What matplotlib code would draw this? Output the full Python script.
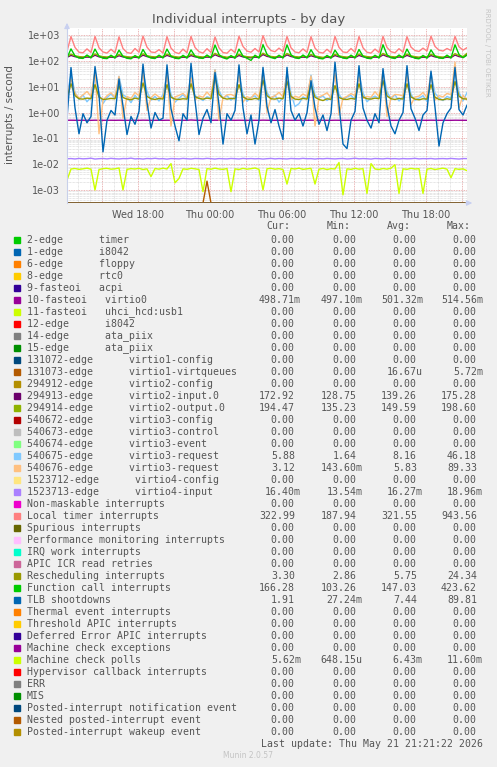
import numpy as np
import pandas as pd
import matplotlib
matplotlib.use('Agg')
import matplotlib.pyplot as plt
import matplotlib.dates as mdates
from matplotlib.patches import Rectangle
from matplotlib.ticker import FixedLocator, LogLocator, NullFormatter, FuncFormatter

# 20 minute samples, Wed 12:05 -> Thu 21:25
times = pd.date_range('2026-05-20 12:05', periods=101, freq='20min')

# --- series that are not flat zero ---
virtio0 = [0.501,
           0.503, 0.500, 0.499, 0.502, 0.500, 0.498,
           0.504, 0.501, 0.499, 0.500, 0.502, 0.499,
           0.503, 0.500, 0.498, 0.501, 0.500, 0.499,
           0.505, 0.502, 0.499, 0.500, 0.501, 0.498,
           0.503, 0.500, 0.499, 0.502, 0.500, 0.499,
           0.514, 0.503, 0.500, 0.501, 0.499, 0.498,
           0.504, 0.501, 0.499, 0.500, 0.502, 0.499,
           0.503, 0.500, 0.498, 0.501, 0.500, 0.499,
           0.506, 0.502, 0.499, 0.500, 0.501, 0.498,
           0.503, 0.500, 0.499, 0.502, 0.500, 0.499,
           0.504, 0.501, 0.500, 0.501, 0.499, 0.498,
           0.503, 0.501, 0.499, 0.500, 0.502, 0.499,
           0.504, 0.500, 0.498, 0.501, 0.500, 0.499,
           0.505, 0.502, 0.499, 0.500, 0.501, 0.498,
           0.503, 0.500, 0.499, 0.502, 0.500, 0.499,
           0.504, 0.501, 0.500, 0.501, 0.499, 0.498,
           0.503, 0.501, 0.500, 0.4987]

virtio1_vq = [0.0] * 35 + [0.0022] + [0.0] * 65

virtio2_in = [137,
              162, 145, 136, 133, 140, 135,
              165, 143, 135, 132, 139, 134,
              158, 142, 134, 131, 138, 133,
              166, 146, 137, 133, 141, 136,
              163, 144, 135, 130, 139, 134,
              160, 143, 136, 132, 140, 135,
              172, 148, 137, 129, 138, 133,
              161, 142, 135, 131, 139, 134,
              175, 149, 138, 133, 141, 136,
              170, 147, 136, 132, 140, 135,
              158, 141, 134, 129, 138, 133,
              160, 143, 135, 131, 139, 134,
              162, 144, 136, 132, 140, 135,
              171, 147, 137, 133, 141, 136,
              163, 143, 135, 130, 139, 134,
              160, 142, 134, 131, 138, 133,
              168, 146, 137, 172.9]

virtio2_out = [147,
               182, 158, 146, 142, 150, 145,
               185, 156, 145, 141, 149, 144,
               176, 154, 144, 140, 148, 143,
               188, 159, 147, 142, 151, 146,
               183, 157, 145, 139, 149, 144,
               180, 155, 146, 141, 150, 145,
               195, 161, 147, 138, 148, 143,
               181, 155, 145, 140, 149, 144,
               198, 162, 148, 142, 151, 146,
               193, 160, 146, 141, 150, 145,
               177, 154, 144, 136, 148, 143,
               180, 156, 145, 140, 149, 144,
               183, 157, 146, 141, 150, 145,
               194, 160, 147, 142, 151, 146,
               184, 156, 145, 139, 149, 144,
               180, 155, 144, 140, 148, 143,
               190, 159, 147, 194.5]

v3_request_a = [4.5,
                30, 6.0, 3.2, 4.8, 2.6, 4.0,
                35, 5.5, 2.2, 3.8, 5.2, 3.5,
                25, 4.8, 3.9, 2.4, 4.6, 3.1,
                38, 6.5, 3.0, 4.2, 2.8, 5.0,
                32, 5.0, 2.5, 3.6, 4.9, 3.3,
                28, 4.4, 3.8, 2.9, 4.1, 3.6,
                46, 7.0, 3.5, 4.5, 3.0, 4.2,
                30, 5.2, 2.7, 3.9, 4.4, 2.9,
                40, 6.0, 3.3, 4.7, 2.5, 3.8,
                36, 5.5, 1.7, 2.2, 4.0, 3.4,
                28, 4.6, 3.6, 4.4, 2.9, 4.1,
                30, 5.0, 3.1, 4.0, 4.6, 3.2,
                33, 5.8, 2.6, 3.7, 4.3, 3.5,
                38, 6.2, 3.4, 4.8, 2.8, 4.0,
                30, 5.0, 3.0, 3.6, 4.5, 2.7,
                34, 5.6, 3.7, 2.9, 4.2, 3.6,
                36, 6.0, 2.8, 5.88]

v3_request_b = [4.0,
                20, 5.5, 3.6, 4.8, 6.5, 4.2,
                40, 0.15, 3.0, 4.5, 5.8, 3.9,
                25, 0.6, 4.2, 3.5, 6.0, 4.4,
                35, 1.2, 3.8, 5.2, 4.0, 3.6,
                30, 0.3, 4.0, 4.6, 5.5, 3.8,
                22, 3.0, 4.4, 3.9, 6.2, 4.1,
                45, 0.5, 3.7, 4.8, 5.0, 4.3,
                28, 2.5, 4.1, 3.6, 5.6, 3.9,
                38, 1.0, 3.9, 4.4, 6.0, 4.0,
                30, 3.2, 4.3, 3.8, 5.2, 4.2,
                26, 0.3, 4.0, 4.7, 5.8, 3.7,
                32, 0.8, 3.6, 4.2, 5.4, 4.5,
                24, 3.5, 4.2, 3.9, 6.4, 4.1,
                40, 0.7, 3.8, 5.0, 4.8, 4.4,
                28, 2.0, 4.0, 4.3, 6.0, 3.8,
                30, 3.0, 4.5, 4.0, 5.5, 4.9,
                89, 1.5, 4.6, 3.12]

v4_input = [0.0162, 0.0165, 0.0159, 0.0167, 0.0161, 0.0164, 0.0170, 0.0158, 0.0163, 0.0166,
            0.0160, 0.0168, 0.0162, 0.0159, 0.0165, 0.0163, 0.0171, 0.0160, 0.0164, 0.0158,
            0.0166, 0.0162, 0.0169, 0.0161, 0.0164, 0.0157, 0.0165, 0.0163, 0.0160, 0.0167,
            0.0162, 0.0159, 0.0166, 0.0164, 0.0161, 0.0168, 0.0163, 0.0158, 0.0165, 0.0162,
            0.0160, 0.0166, 0.0163, 0.0159, 0.0167, 0.0162, 0.0165, 0.0161, 0.0164, 0.0158,
            0.0163, 0.0167, 0.0160, 0.0165, 0.0162, 0.0159, 0.0166, 0.0163, 0.0161, 0.0168,
            0.0162, 0.0164, 0.0158, 0.0165, 0.0161, 0.0167, 0.0163, 0.0160, 0.0164, 0.0166,
            0.0159, 0.0163, 0.0170, 0.0161, 0.0165, 0.0162, 0.0158, 0.0166, 0.0163, 0.0160,
            0.0167, 0.0162, 0.0164, 0.0159, 0.0165, 0.0161, 0.0163, 0.0168, 0.0160, 0.0164,
            0.0162, 0.0166, 0.0159, 0.0163, 0.0165, 0.0161, 0.0167, 0.0162, 0.0158, 0.0165,
            0.0164]

local_timer = [235,
               870, 330, 215, 205, 290, 210,
               880, 320, 220, 200, 280, 205,
               850, 300, 210, 195, 300, 215,
               900, 340, 220, 210, 270, 200,
               860, 310, 215, 190, 285, 205,
               880, 330, 225, 200, 295, 210,
               840, 320, 210, 198, 280, 208,
               890, 360, 240, 215, 300, 220,
               943, 380, 250, 225, 310, 230,
               870, 320, 220, 205, 290, 212,
               860, 310, 215, 200, 280, 205,
               880, 330, 220, 210, 300, 215,
               870, 320, 215, 200, 285, 210,
               880, 330, 225, 205, 295, 215,
               860, 340, 250, 230, 310, 240,
               900, 360, 260, 240, 300, 250,
               880, 350, 260, 323]

resched = [3.6,
           13, 4.5, 3.4, 3.3, 3.6, 3.4,
           12, 4.0, 3.2, 3.3, 3.5, 3.4,
           11, 3.8, 3.3, 3.1, 3.6, 3.3,
           14, 4.2, 3.4, 3.2, 3.5, 3.3,
           12, 3.9, 3.3, 3.2, 3.4, 3.3,
           13, 4.1, 3.5, 3.3, 3.6, 3.4,
           24, 5.0, 3.6, 3.3, 3.5, 3.4,
           12, 4.0, 3.3, 3.2, 3.5, 3.3,
           18, 4.5, 3.4, 3.3, 3.6, 3.4,
           16, 4.2, 3.3, 3.2, 3.5, 3.3,
           12, 3.9, 3.2, 2.9, 3.4, 3.2,
           11, 3.8, 3.3, 3.2, 3.5, 3.3,
           13, 4.0, 3.4, 3.3, 3.6, 3.4,
           17, 4.4, 3.4, 3.2, 3.5, 3.3,
           13, 4.0, 3.3, 3.1, 3.4, 3.3,
           12, 3.9, 3.2, 3.1, 3.4, 3.2,
           16, 4.3, 3.4, 3.30]

func_call = [130,
             290, 155, 128, 124, 168, 130,
             285, 150, 126, 122, 165, 128,
             260, 148, 125, 120, 160, 127,
             275, 152, 128, 123, 166, 129,
             285, 150, 126, 121, 163, 128,
             265, 152, 129, 124, 168, 130,
             410, 175, 132, 118, 160, 126,
             285, 150, 126, 104, 165, 128,
             423, 178, 134, 122, 165, 128,
             415, 172, 130, 123, 168, 130,
             270, 148, 125, 119, 162, 127,
             260, 152, 128, 122, 166, 129,
             275, 150, 126, 121, 164, 128,
             420, 172, 131, 123, 168, 130,
             285, 148, 126, 120, 162, 127,
             265, 152, 129, 124, 166, 129,
             418, 176, 132, 166]

tlb = [0.6,
       55, 1.5, 0.15, 0.9, 0.4, 0.7,
       60, 5.0, 0.03, 0.5, 1.2, 0.8,
       20, 1.8, 0.14, 0.7, 0.35, 1.1,
       75, 2.5, 0.25, 1.0, 0.5, 0.6,
       70, 1.4, 0.3, 0.08, 0.9, 0.5,
       80, 3.0, 0.14, 0.6, 1.3, 0.4,
       36, 2.0, 0.06, 0.9, 0.5, 1.2,
       70, 1.5, 0.15, 0.8, 0.06, 0.5,
       56, 1.7, 0.4, 1.3, 0.3, 0.09,
       56, 1.2, 0.5, 0.9, 0.3, 1.0,
       17, 1.5, 0.35, 0.8, 0.2, 0.9,
       89, 2.0, 0.06, 0.04, 0.5, 1.1,
       65, 1.5, 0.5, 0.25, 0.9, 0.4,
       50, 1.8, 0.3, 0.15, 0.5, 1.0,
       65, 1.4, 0.6, 0.2, 0.8, 1.2,
       40, 1.6, 0.05, 0.4, 0.9, 1.5,
       56, 1.3, 0.8, 1.91]

mc_polls = [0.0024, 0.0065, 0.0068, 0.0063, 0.0066, 0.0070, 0.0064, 0.0010, 0.0062, 0.0067,
            0.0069, 0.0064, 0.0066, 0.0071, 0.0010, 0.0063, 0.0067, 0.0065, 0.0069, 0.0062,
            0.0066, 0.0033, 0.0068, 0.0064, 0.0070, 0.0065, 0.0105, 0.0019, 0.0028, 0.0066,
            0.0063, 0.0069, 0.0066, 0.0062, 0.00086, 0.0067, 0.0064, 0.0070, 0.0065, 0.0063,
            0.0068, 0.00086, 0.0066, 0.0062, 0.0069, 0.0064, 0.0067, 0.0071, 0.0063, 0.0010,
            0.0066, 0.0069, 0.0064, 0.0067, 0.0062, 0.0017, 0.0068, 0.0065, 0.0070, 0.0063,
            0.0066, 0.0069, 0.0017, 0.0064, 0.0068, 0.0062, 0.0067, 0.0065, 0.0116, 0.00065,
            0.0066, 0.0063, 0.0069, 0.0064, 0.0067, 0.00074, 0.0105, 0.0065, 0.0062, 0.0068,
            0.0064, 0.0070, 0.0095, 0.00074, 0.0066, 0.0063, 0.0069, 0.0065, 0.0067, 0.00074,
            0.0064, 0.0068, 0.0062, 0.0066, 0.0070, 0.0064, 0.0030, 0.0067, 0.0063, 0.0066,
            0.0056]

# --- legend ---
labels = ['2-edge      timer', '1-edge      i8042', '6-edge      floppy',
          '8-edge      rtc0', '9-fasteoi   acpi', '10-fasteoi   virtio0',
          '11-fasteoi   uhci_hcd:usb1', '12-edge      i8042', '14-edge      ata_piix',
          '15-edge      ata_piix', '131072-edge      virtio1-config',
          '131073-edge      virtio1-virtqueues', '294912-edge      virtio2-config',
          '294913-edge      virtio2-input.0', '294914-edge      virtio2-output.0',
          '540672-edge      virtio3-config', '540673-edge      virtio3-control',
          '540674-edge      virtio3-event', '540675-edge      virtio3-request',
          '540676-edge      virtio3-request', '1523712-edge      virtio4-config',
          '1523713-edge      virtio4-input', 'Non-maskable interrupts',
          'Local timer interrupts', 'Spurious interrupts',
          'Performance monitoring interrupts', 'IRQ work interrupts',
          'APIC ICR read retries', 'Rescheduling interrupts',
          'Function call interrupts', 'TLB shootdowns', 'Thermal event interrupts',
          'Threshold APIC interrupts', 'Deferred Error APIC interrupts',
          'Machine check exceptions', 'Machine check polls',
          'Hypervisor callback interrupts', 'ERR', 'MIS',
          'Posted-interrupt notification event', 'Nested posted-interrupt event',
          'Posted-interrupt wakeup event']

palette = ['#00CC00', '#0066B3', '#FF8000', '#FFCC00', '#330099', '#990099', '#CCFF00',
           '#FF0000', '#808080', '#008F00', '#00487D', '#B35A00', '#B38F00', '#6B006B',
           '#8FB300', '#B30000', '#BEBEBE', '#80FF80', '#80C9FF', '#FFC080', '#FFE680',
           '#AA80FF', '#EE00CC', '#FF8080', '#666600', '#FFBFFF', '#00FFCC', '#CC6699',
           '#999900']
colors = [palette[i % len(palette)] for i in range(len(labels))]

z = '0.00'
cur = [z, z, z, z, z, '498.71m', z, z, z, z, z, z, z, '172.92', '194.47', z, z, z,
       '5.88', '3.12', z, '16.40m', z, '322.99', z, z, z, z, '3.30', '166.28', '1.91',
       z, z, z, z, '5.62m', z, z, z, z, z, z]
mins = [z, z, z, z, z, '497.10m', z, z, z, z, z, z, z, '128.75', '135.23', z, z, z,
        '1.64', '143.60m', z, '13.54m', z, '187.94', z, z, z, z, '2.86', '103.26',
        '27.24m', z, z, z, z, '648.15u', z, z, z, z, z, z]
avgs = [z, z, z, z, z, '501.32m', z, z, z, z, z, '16.67u', z, '139.26', '149.59', z, z,
        z, '8.16', '5.83', z, '16.27m', z, '321.55', z, z, z, z, '5.75', '147.03', '7.44',
        z, z, z, z, '6.43m', z, z, z, z, z, z]
maxs = [z, z, z, z, z, '514.56m', z, z, z, z, z, '5.72m', z, '175.28', '198.60', z, z,
        z, '46.18', '89.33', z, '18.96m', z, '943.56', z, z, z, z, '24.34', '423.62',
        '89.81', z, z, z, z, '11.60m', z, z, z, z, z, z]

series = {5: virtio0, 11: virtio1_vq, 13: virtio2_in, 14: virtio2_out,
          18: v3_request_a, 19: v3_request_b, 21: v4_input, 23: local_timer,
          28: resched, 29: func_call, 30: tlb, 35: mc_polls}
zero_row = [0.0] * len(times)

W, H = 497, 767
def fx(x): return x / W
def fy(y): return 1 - y / H

txt = '#555555'
fig = plt.figure(figsize=(W / 100, H / 100), dpi=100, facecolor='#F0F0F0')
ax = fig.add_axes([fx(67), fy(203), (467 - 67) / W, (203 - 28) / H])
ax.set_facecolor('white')
ax.set_yscale('log')
ymin, ymax = 3.14e-4, 1866
ax.set_ylim(ymin, ymax)
ax.set_xlim(pd.Timestamp('2026-05-20 12:05'), pd.Timestamp('2026-05-21 21:25'))

# grid
ax.yaxis.set_major_locator(FixedLocator([1e-3, 1e-2, 1e-1, 1, 10, 100, 1000]))
ax.yaxis.set_minor_locator(LogLocator(base=10, subs=np.arange(2, 10), numticks=20))
ax.yaxis.set_major_formatter(FuncFormatter(lambda v, p: '%.0e' % v))
ax.yaxis.set_minor_formatter(NullFormatter())
ax.xaxis.set_major_locator(mdates.HourLocator(byhour=range(0, 24, 3)))
ax.xaxis.set_minor_locator(mdates.HourLocator())
ax.xaxis.set_major_formatter(FuncFormatter(
    lambda v, p: mdates.num2date(v).strftime('%a %H:%M') if mdates.num2date(v).hour % 6 == 0 else ''))
ax.grid(True, which='minor', color='#CFCFCF', lw=0.5, ls=(0, (1, 1)))
ax.grid(True, which='major', color='#E39C9C', lw=0.6, ls=(0, (1, 1)))
ax.set_axisbelow(True)
ax.tick_params(which='both', length=0, colors=txt, labelsize=7)
ax.tick_params(axis='x', pad=5)
ax.tick_params(axis='y', pad=5)
for s in ['top', 'right', 'bottom']:
    ax.spines[s].set_visible(False)
ax.spines['left'].set_color('#C8D0EA')
ax.spines['left'].set_linewidth(0.8)

# lines, drawn in legend order; zero values sit on the bottom edge
for i in range(len(labels)):
    vals = np.asarray(series.get(i, zero_row), dtype=float)
    ax.plot(times, np.clip(vals, ymin, None), color=colors[i], lw=1.0, clip_on=True)

# axis arrows
ax.annotate('', xy=(0, 1.045), xytext=(0, 0.98), xycoords='axes fraction',
            arrowprops=dict(arrowstyle='-|>', color='#C8D0F0', lw=0.8, mutation_scale=8))
ax.annotate('', xy=(1.02, 0), xytext=(0.99, 0), xycoords='axes fraction',
            arrowprops=dict(arrowstyle='-|>', color='#C8D0F0', lw=0.8, mutation_scale=8))

fig.text(fx(249), fy(19), 'Individual interrupts - by day', ha='center', va='center',
         fontsize=9.5, color=txt)
fig.text(fx(10), fy(115), 'interrupts / second', rotation=90, ha='center', va='center',
         fontsize=7.5, color=txt)
fig.text(fx(487), fy(52), 'RRDTOOL / TOBI OETIKER', rotation=270, ha='center',
         va='center', fontsize=5, color='#C4C4C4')

mono = 'DejaVu Sans Mono'
fs = 7.1
cw = fs * 100 / 72 * 0.602   # monospace advance in px
for h, xr in zip(['Cur:', 'Min:', 'Avg:', 'Max:'], [290, 350, 411, 470]):
    fig.text(fx(xr - len(h) * cw), fy(226), h, ha='left', va='center', family=mono,
             fontsize=fs, color=txt)

# right edge of each value column, including the unit-suffix slot
col_end = [300.5, 362, 422.5, 482.5]
for j, lab in enumerate(labels):
    y = 240 + 12 * j
    fig.patches.append(Rectangle((fx(14), fy(y + 3)), 6 / W, 6 / H, color=colors[j],
                                 transform=fig.transFigure, figure=fig))
    fig.text(fx(26.7), fy(y), lab, ha='left', va='center', family=mono, fontsize=fs, color=txt)
    for xe, val in zip(col_end, [cur[j], mins[j], avgs[j], maxs[j]]):
        n = len(val) if val[-1].isalpha() else len(val) + 1
        fig.text(fx(xe - n * cw), fy(y), val, ha='left', va='center', family=mono,
                 fontsize=fs, color=txt)

fig.text(fx(483), fy(744), 'Last update: Thu May 21 21:21:22 2026', ha='right', va='center',
         family=mono, fontsize=fs, color=txt)
fig.text(fx(248), fy(756), 'Munin 2.0.57', ha='center', va='center', fontsize=5.5,
         color='#C4C4C4')

fig.savefig('out.png', dpi=100, facecolor=fig.get_facecolor())
